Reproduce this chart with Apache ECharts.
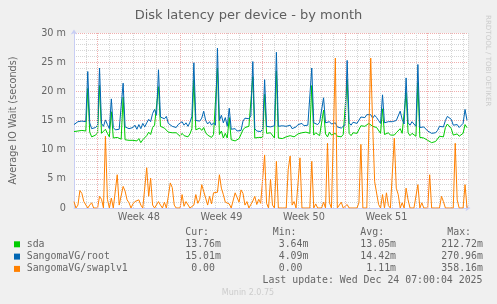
<!DOCTYPE html>
<html><head><meta charset="utf-8">
<script src="https://cdn.jsdelivr.net/npm/echarts@6/dist/echarts.min.js"></script>
<style>html,body{margin:0;padding:0;background:#F0F0F0;}#c{width:497px;height:304px;}</style>
</head><body><div id="c"></div>
<script>
// one sample every 4 hours, starting at day 0
const STEP_DAYS = 1 / 6;
const sda = [
13.1,13.4,13.2,13.5,13.3,13.6, 13.2,20.5,13.0,12.2,12.3,12.5, 12.9,21.0,12.8,12.6,13.5,12.8,
12.2,16.5,12.0,11.9,12.1,11.8, 11.8,19.0,11.7,11.5,11.6,11.4, 11.6,11.3,11.5,11.9,11.2,11.7,
11.5,12.4,13.0,12.6,13.8,14.2, 14.0,20.8,14.0,14.2,13.7,14.0, 13.0,13.1,12.9,12.8,12.9,12.6,
12.3,12.8,12.4,12.6,12.2,12.7, 13.6,22.0,13.4,13.2,13.7,13.3, 13.8,12.9,12.5,12.8,12.1,12.6,
12.3,24.0,12.6,13.2,12.0,12.8, 12.0,15.5,11.7,11.9,11.5,11.8, 11.9,11.6,13.4,13.8,14.1,14.0,
14.2,22.5,12.0,11.9,12.1,11.8, 12.1,19.5,12.8,12.7,12.9,12.6, 12.0,23.5,12.0,12.2,11.9,12.1,
12.2,12.0,12.4,12.1,12.2,12.3, 12.7,12.8,12.9,12.6,13.0,12.7, 12.8,21.0,12.5,12.9,13.2,12.4,
12.6,16.8,12.7,12.2,13.0,12.5, 12.4,12.8,12.3,12.5,12.2,12.6, 12.5,22.0,12.8,12.4,12.9,12.6,
12.8,13.0,14.1,14.3,14.0,14.3, 14.5,14.2,14.0,14.3,13.8,13.5, 12.8,17.0,12.6,12.4,12.9,12.5,
12.7,12.5,12.9,12.6,13.6,12.8, 12.5,19.8,12.9,12.4,12.8,12.6, 12.3,21.5,12.1,12.2,12.0,12.3,
11.6,11.3,11.2,11.5,11.4,11.6, 12.3,12.5,12.2,13.8,14.4,14.5, 13.6,12.5,12.4,12.7,12.3,12.6,
12.8,14.3,13.76
];
const root = [
14.3,14.6,14.8,14.5,14.9,14.6, 14.8,23.4,14.6,13.6,13.4,13.8, 14.2,24.0,14.5,14.0,15.1,14.3,
13.6,18.7,13.8,13.4,13.3,13.5, 13.7,21.4,13.9,14.0,13.6,13.9, 13.8,14.2,13.5,14.3,13.6,14.5,
13.9,14.6,15.2,14.8,16.2,16.9, 15.9,23.7,15.6,15.8,15.3,15.7, 14.5,14.4,14.0,14.2,13.8,14.3,
14.5,14.8,14.2,14.6,14.0,14.7, 15.7,24.9,15.0,15.3,14.9,15.4, 16.6,15.0,14.4,14.8,14.2,14.6,
14.2,27.4,15.0,15.9,14.6,15.5, 14.0,17.1,13.5,13.3,13.6,13.2, 13.5,13.3,14.9,15.4,15.6,15.3,
15.8,25.1,13.6,13.2,13.4,13.1, 13.5,22.0,14.0,14.2,13.9,14.1, 14.1,26.7,14.0,13.8,14.1,13.9,
14.0,13.8,14.2,13.6,13.7,13.9, 14.3,14.0,14.5,14.1,14.4,14.2, 14.2,24.0,14.6,14.9,14.3,14.7,
14.5,18.9,14.6,14.3,14.8,14.4, 14.2,14.6,13.9,14.1,13.7,14.0, 14.3,25.3,14.6,14.2,14.7,14.4,
14.5,14.8,15.6,15.8,15.5,16.0, 16.2,16.0,15.4,15.9,15.5,15.0, 14.5,19.4,14.6,14.3,14.8,14.5,
14.8,14.5,15.0,14.7,16.6,15.2, 14.4,22.3,14.6,14.2,14.8,14.5, 14.0,24.6,13.8,13.5,13.9,13.6,
13.2,13.0,12.8,13.1,12.9,13.3, 14.0,14.3,13.9,15.0,15.7,15.5, 15.2,14.2,14.0,14.3,13.8,14.1,
14.5,16.9,15.01
];
const swap = [
1.1,0,0.5,3.0,2.5,1.1, 1.1,0,0.5,0.9,0,0, 0,2.0,1.5,0,12.3,1.5,
0,1.7,0,0.3,5.7,0.5, 0.3,3.7,2.9,1.4,0.9,0, 0.7,1.1,0.8,1.4,0.5,0,
0,6.9,2.0,5.1,0.5,0, 0,1.1,0.5,0,1.0,0, 2.0,4.3,3.5,0.5,0,0,
0,2.3,0.3,1.1,0.9,0, 0,0.5,2.3,0.8,1.5,4.0, 4.0,1.7,0.5,2.0,0.7,2.6,
2.9,2.7,5.7,3.4,2.3,1.0, 1.0,0.7,0,0.3,2.6,2.4, 1.0,3.1,2.5,0.5,1.1,0,
0,1.2,2.0,0.6,1.5,0.8, 0.5,9.1,0.8,0,4.9,0.5, 0,8.0,0,0,0,0,
0,6.6,8.9,0.5,1.1,0, 0,8.6,0,0,0,0, 0,8.0,0,0.7,0,0,
0,1.0,0,11.1,0.9,0, 0,25.7,0,0,1.0,0, 0,0.6,0,0,0,0,
0,0.9,10.9,0,0,0, 0,25.7,14.0,4.5,4.3,0.6, 0,2.3,0,2.6,0.4,0,
0,12.0,3.4,2.3,0,0.9, 0,3.4,1.4,0,0,0, 0,4.0,0,0.9,0,0,
0,5.7,0,0,0,0, 0,2.0,1.1,0,0,0, 0,0,11.1,1.4,0,0,
0,4.0,0
];
const weekStarts = [2, 9, 16, 23, 30];
const weekLabels = ['Week 48', 'Week 49', 'Week 50', 'Week 51'];
const seriesNames = ['sda', 'SangomaVG/root', 'SangomaVG/swaplv1'];
const seriesColors = ['#00CC00', '#0066B3', '#FF8000'];
const curVals = [[13.76, 'm'], [15.01, 'm'], [0, '']];
const minVals = [[3.64, 'm'], [4.09, 'm'], [0, '']];
const avgVals = [[13.05, 'm'], [14.42, 'm'], [1.11, 'm']];
const maxVals = [[212.72, 'm'], [270.96, 'm'], [358.16, 'm']];
const lastUpdate = 'Last update: Wed Dec 24 07:00:04 2025';

const toPairs = arr => arr.map((v, i) => [i * STEP_DAYS, v]);
const FONT = '"DejaVu Sans", sans-serif';
const MONO = '"DejaVu Sans Mono", monospace';
const TXT = '#666666';

const fmt = (p) => p[0].toFixed(2).padStart(6, ' ') + p[1];

const graphics = [];
const colX = [179.3, 266.8, 354.4, 441.3];
const headers = ['Cur:', 'Min:', 'Avg:', 'Max:'];
const cols = [curVals, minVals, avgVals, maxVals];
const rowY = [244.3, 256.6, 268.9];
const monoStyle = (text, x, y, align) => ({
  type: 'text', x: x, y: y, silent: true,
  style: { text: text, font: '9.9px ' + MONO, fill: TXT, align: align || 'left', verticalAlign: 'middle' }
});
headers.forEach((h, c) => graphics.push(monoStyle(' ' + h, colX[c], 232.5)));
seriesNames.forEach((n, r) => {
  graphics.push({ type: 'rect', silent: true, shape: { x: 14, y: rowY[r] - 3, width: 6, height: 6 }, style: { fill: seriesColors[r] } });
  graphics.push(monoStyle(n, 26.7, rowY[r]));
  cols.forEach((col, c) => graphics.push(monoStyle(fmt(col[r]), colX[c], rowY[r])));
});
graphics.push(monoStyle(lastUpdate, 482.5, 280.4, 'right'));
graphics.push({ type: 'text', x: 248, y: 293, silent: true,
  style: { text: 'Munin 2.0.75', font: '8px ' + FONT, fill: '#CCCCCC', align: 'center', verticalAlign: 'middle' } });
graphics.push({ type: 'text', x: 487.5, y: 15, rotation: -Math.PI / 2, silent: true,
  style: { text: 'RRDTOOL / TOBI OETIKER', font: '7.1px ' + FONT, fill: '#CCCCCC', align: 'left', verticalAlign: 'middle' } });

const chart = echarts.init(document.getElementById('c'), null, { renderer: 'canvas' });
const AXIS = '#C8CEF4';
const MAJ = '#F0AEAE';
const MIN = '#D6D6D6';
chart.setOption({
  animation: false,
  backgroundColor: '#F0F0F0',
  title: {
    text: 'Disk latency per device - by month', left: 'center', top: 4,
    textStyle: { fontFamily: FONT, fontSize: 13, fontWeight: 'normal', color: '#5E5E5E' }
  },
  grid: { left: 67, right: 29, top: 33, bottom: 96, show: true, backgroundColor: '#FFFFFF', borderWidth: 0 },
  xAxis: {
    type: 'value', min: 0, max: 401 / 12, interval: 1,
    axisLine: { show: true, lineStyle: { color: AXIS, width: 1 }, symbol: ['none', 'arrow'], symbolSize: [5, 5], symbolOffset: [0, 2.5] },
    axisTick: { show: false },
    splitLine: { show: true, lineStyle: { color: MIN, type: [1, 1], width: 1 } },
    axisLabel: {
      customValues: weekStarts.slice(0, weekLabels.length).map(d => d + 3.5),
      formatter: (v) => weekLabels[weekStarts.indexOf(v - 3.5)] || '',
      fontFamily: FONT, fontSize: 9.7, color: TXT, margin: 4
    }
  },
  yAxis: {
    type: 'value', min: 0, max: 30, interval: 5,
    name: 'Average IO Wait (seconds)', nameLocation: 'middle', nameGap: 56, nameRotate: 90,
    nameTextStyle: { fontFamily: FONT, fontSize: 9.7, color: TXT },
    axisLine: { show: true, lineStyle: { color: AXIS, width: 1 }, symbol: ['none', 'arrow'], symbolSize: [5, 5], symbolOffset: [0, 3.5] },
    axisTick: { show: false },
    axisLabel: { formatter: v => v === 0 ? '0' : v + ' m', fontFamily: FONT, fontSize: 9.7, color: TXT, margin: 8 },
    splitLine: { show: true, lineStyle: { color: MAJ, type: [1, 1], width: 1 } },
    minorTick: { show: false, splitNumber: 5 },
    minorSplitLine: { show: true, lineStyle: { color: MIN, type: [1, 1], width: 1 } }
  },
  series: [
    { type: 'line', data: [], silent: true, z: 1,
      markLine: { silent: true, symbol: 'none', label: { show: false },
        lineStyle: { color: MAJ, type: [1, 1], width: 1 },
        data: weekStarts.map(d => ({ xAxis: d })) } },
    ...[sda, root, swap].map((arr, k) => ({
      name: seriesNames[k], type: 'line', data: toPairs(arr), showSymbol: false, z: 2 + k,
      lineStyle: { color: seriesColors[k], width: 1 }, itemStyle: { color: seriesColors[k] }
    }))
  ],
  graphic: graphics
});
</script></body></html>
